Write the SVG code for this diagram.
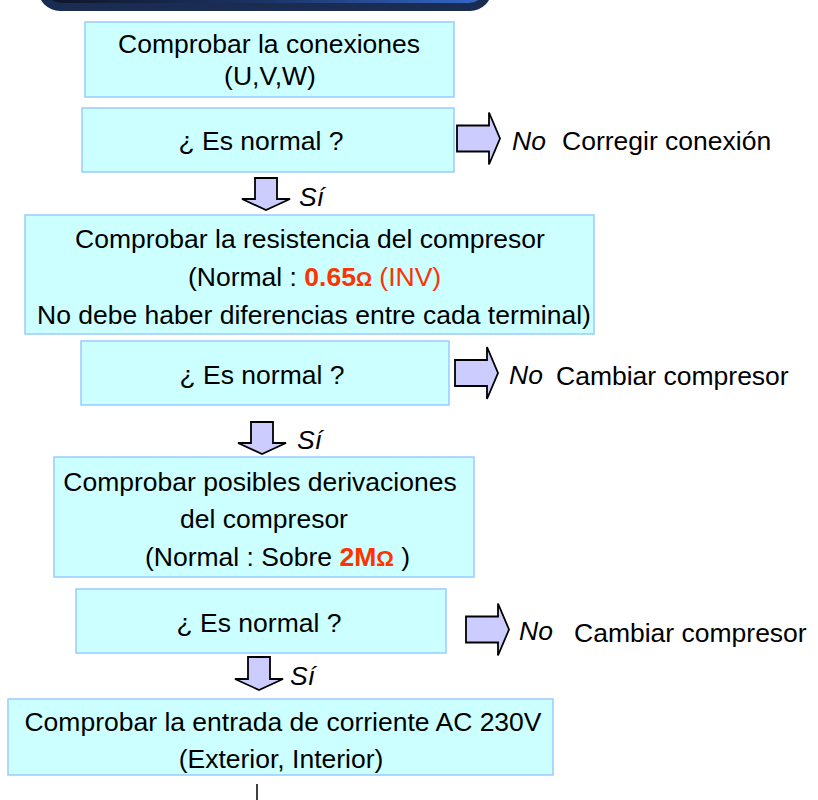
<svg xmlns="http://www.w3.org/2000/svg" width="818" height="800" viewBox="0 0 818 800">
  <style>
    .box { fill: #ccffff; stroke: #99ccff; stroke-width: 1.5; }
    .txt { font-family: "Liberation Sans", Arial, sans-serif; font-size: 26.5px; fill: #000000; }
    .mid { text-anchor: middle; }
    .it { font-style: italic; }
    .red { fill: #ff3300; }
    .b { font-weight: bold; }
    .arrow { fill: #ccccff; stroke: #000000; stroke-width: 1.8; stroke-linejoin: miter; }
    .line { stroke: #000000; stroke-width: 1.5; fill: none; }
  </style>
  <defs>
    <linearGradient id="bannerGrad" x1="0" y1="0" x2="1" y2="0">
      <stop offset="0" stop-color="#0e1528"/>
      <stop offset="0.5" stop-color="#1c3466"/>
      <stop offset="1" stop-color="#3567c8"/>
    </linearGradient>
  </defs>

  <g id="banner">
    <rect x="38" y="-60" width="454" height="71" rx="22" ry="22" fill="#1a2c52"/>
    <rect x="45" y="-60" width="440" height="63" rx="16" ry="16" fill="url(#bannerGrad)"/>
  </g>

  <g id="node-conexiones">
    <rect class="box" x="85" y="22" width="369" height="75"/>
    <text class="txt mid" x="269" y="53">Comprobar la conexiones</text>
    <text class="txt mid" x="270" y="85">(U,V,W)</text>
  </g>

  <g id="node-normal1">
    <rect class="box" x="82" y="108" width="372" height="64"/>
    <text class="txt mid" x="261" y="150">¿ Es normal ?</text>
  </g>

  <g id="node-resistencia">
    <rect class="box" x="25" y="215" width="569" height="119"/>
    <text class="txt mid" x="310" y="248">Comprobar la resistencia del compresor</text>
    <text class="txt" x="188" y="286">(Normal : <tspan class="red b">0.65</tspan><tspan class="red b" font-size="20">Ω</tspan> <tspan class="red">(INV)</tspan></text>
    <text class="txt" x="37" y="324">No debe haber diferencias entre cada terminal)</text>
  </g>

  <g id="node-normal2">
    <rect class="box" x="81" y="341" width="368" height="64"/>
    <text class="txt mid" x="262" y="384">¿ Es normal ?</text>
  </g>

  <g id="node-derivaciones">
    <rect class="box" x="54" y="457" width="420" height="120"/>
    <text class="txt mid" x="260" y="491">Comprobar posibles derivaciones</text>
    <text class="txt mid" x="264" y="528">del compresor</text>
    <text class="txt" x="145" y="566">(Normal : Sobre <tspan class="red b">2M</tspan><tspan class="red b" font-size="22">Ω</tspan> )</text>
  </g>

  <g id="node-normal3">
    <rect class="box" x="76" y="589" width="370" height="64"/>
    <text class="txt mid" x="259" y="632">¿ Es normal ?</text>
  </g>

  <g id="node-entrada">
    <rect class="box" x="8" y="699" width="545" height="76"/>
    <text class="txt mid" x="283" y="731">Comprobar la entrada de corriente AC 230V</text>
    <text class="txt mid" x="281" y="768">(Exterior, Interior)</text>
  </g>

  <g id="connectors">
    <!-- right "No" arrows -->
    <path class="arrow" d="M457,125.5 H489 V112.5 L500,138.5 L489,164.5 V151.5 H457 Z"/>
    <path class="arrow" d="M455,360 H487 V347 L498,373 L487,399 V386 H455 Z"/>
    <path class="arrow" d="M466,616.5 H498 V603.5 L509,629.5 L498,655.5 V642.5 H466 Z"/>
    <!-- down "Sí" arrows -->
    <path class="arrow" d="M255,178 H277 V199 H290 L266,210 L242,199 H255 Z"/>
    <path class="arrow" d="M251,422 H273 V443 H286 L262,454 L238,443 H251 Z"/>
    <path class="arrow" d="M248,657 H270 V679 H283 L259,690 L235,679 H248 Z"/>
    <!-- continuation line -->
    <line class="line" x1="257" y1="784" x2="257" y2="800"/>
  </g>

  <g id="labels">
    <text class="txt it" x="512" y="150">No</text>
    <text class="txt" x="562" y="150">Corregir conexión</text>
    <text class="txt it" x="509" y="384">No</text>
    <text class="txt" x="556" y="385">Cambiar compresor</text>
    <text class="txt it" x="519" y="640">No</text>
    <text class="txt" x="574" y="642">Cambiar compresor</text>
    <text class="txt it" x="299" y="206">Sí</text>
    <text class="txt it" x="297" y="449">Sí</text>
    <text class="txt it" x="290" y="685">Sí</text>
  </g>
</svg>
